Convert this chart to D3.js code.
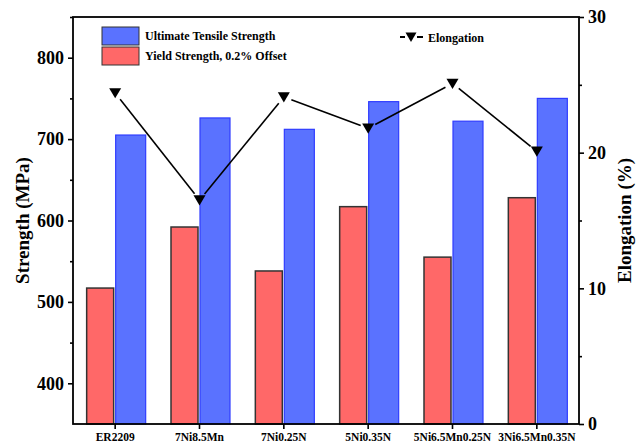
<!DOCTYPE html>
<html>
<head>
<meta charset="utf-8">
<script src="https://cdn.jsdelivr.net/npm/d3@7/dist/d3.min.js"></script>
<style>
  html, body { margin: 0; padding: 0; background: #fff; }
  svg { display: block; }
  text { font-family: "Liberation Serif", "Times New Roman", serif; font-weight: bold; fill: #000; }
</style>
</head>
<body>
<svg id="chart" width="640" height="442"></svg>
<script>
// Alloy designations along the x axis
const categories = ["ER2209", "7Ni8.5Mn", "7Ni0.25N", "5Ni0.35N", "5Ni6.5Mn0.25N", "3Ni6.5Mn0.35N"];
// Strength values (MPa)
const tensileStrength = [705, 726, 712, 746, 722, 750];
const yieldStrength = [517, 592, 538, 617, 555, 628];
// Elongation (%)
const elongation = [24.4, 16.5, 24.1, 21.8, 25.1, 20.1];
// Axis ticks
const strengthTicks = [400, 500, 600, 700, 800];
const strengthMinor = [450, 550, 650, 750, 850];
const elongTicks = [0, 10, 20, 30];
const elongMinor = [5, 15, 25];

const svg = d3.select("#chart");
const plot = { left: 73, right: 579, top: 17, bottom: 424 };

const x = d3.scaleBand().domain(categories).range([plot.left, plot.right]);
const yL = d3.scaleLinear().domain([350, 850]).range([plot.bottom, plot.top]);
const yR = d3.scaleLinear().domain([0, 30]).range([plot.bottom, plot.top]);
const cx = c => x(c) + x.bandwidth() / 2;

const blueFill = "#5a72ff", blueStroke = "#2f3cff";
const redFill = "#ff6868", redStroke = "#333";

// Bars: yield strength left of the category tick, tensile strength right of it
const redW = 27, blueW = 30;
svg.append("g").selectAll("rect")
  .data(categories.map((c, i) => ({ c, v: yieldStrength[i] })))
  .join("rect")
  .attr("x", d => cx(d.c) - 1.5 - redW)
  .attr("width", redW)
  .attr("y", d => yL(d.v))
  .attr("height", d => plot.bottom - yL(d.v))
  .attr("fill", redFill)
  .attr("stroke", redStroke)
  .attr("stroke-width", 1.5);

svg.append("g").selectAll("rect")
  .data(categories.map((c, i) => ({ c, v: tensileStrength[i] })))
  .join("rect")
  .attr("x", d => cx(d.c) + 0.5)
  .attr("width", blueW)
  .attr("y", d => yL(d.v))
  .attr("height", d => plot.bottom - yL(d.v))
  .attr("fill", blueFill)
  .attr("stroke", blueStroke)
  .attr("stroke-width", 1.2);

// Elongation line: segments stop short of each marker
const pts = categories.map((c, i) => [cx(c), yR(elongation[i])]);
const gap = 8;
const segs = d3.pairs(pts).map(([a, b]) => {
  const dx = b[0] - a[0], dy = b[1] - a[1], len = Math.hypot(dx, dy);
  const ux = dx / len, uy = dy / len;
  return [a[0] + ux * gap, a[1] + uy * gap, b[0] - ux * gap, b[1] - uy * gap];
});
svg.append("g").selectAll("line")
  .data(segs)
  .join("line")
  .attr("x1", d => d[0]).attr("y1", d => d[1])
  .attr("x2", d => d[2]).attr("y2", d => d[3])
  .attr("stroke", "#000")
  .attr("stroke-width", 1.6);

const tri = (px, py, s) => `M${px - s},${py - s * 0.8}L${px + s},${py - s * 0.8}L${px},${py + s * 0.9}Z`;
svg.append("g").selectAll("path")
  .data(pts)
  .join("path")
  .attr("d", d => tri(d[0], d[1], 6))
  .attr("fill", "#000");

// Axes
const axisW = 1.8;
const gL = svg.append("g").attr("transform", `translate(${plot.left},0)`)
  .call(d3.axisLeft(yL).tickValues(strengthTicks).tickSize(5).tickPadding(4));
const gLm = svg.append("g").attr("transform", `translate(${plot.left},0)`)
  .call(d3.axisLeft(yL).tickValues(strengthMinor).tickSize(3).tickFormat(""));
const gR = svg.append("g").attr("transform", `translate(${plot.right},0)`)
  .call(d3.axisRight(yR).tickValues(elongTicks).tickSize(5).tickPadding(4));
const gRm = svg.append("g").attr("transform", `translate(${plot.right},0)`)
  .call(d3.axisRight(yR).tickValues(elongMinor).tickSize(3).tickFormat(""));
const gB = svg.append("g").attr("transform", `translate(0,${plot.bottom})`)
  .call(d3.axisBottom(x).tickSize(5).tickPadding(4));

[gL, gLm, gR, gRm, gB].forEach(g => {
  g.select(".domain").remove();
  g.selectAll(".tick line").attr("stroke", "#000").attr("stroke-width", 1.6);
});
[gL, gR].forEach(g => g.selectAll(".tick text")
  .style("font-size", "18px").style("font-family", "Liberation Serif").style("font-weight", "bold"));
gB.selectAll(".tick text")
  .style("font-size", "11.5px").style("font-family", "Liberation Serif").style("font-weight", "bold");

// Frame
svg.append("rect")
  .attr("x", plot.left).attr("y", plot.top)
  .attr("width", plot.right - plot.left).attr("height", plot.bottom - plot.top)
  .attr("fill", "none").attr("stroke", "#000").attr("stroke-width", axisW);

// Axis titles
svg.append("text")
  .attr("transform", `translate(29,${(plot.top + plot.bottom) / 2}) rotate(-90)`)
  .attr("text-anchor", "middle")
  .style("font-size", "19px")
  .text("Strength (MPa)");
svg.append("text")
  .attr("transform", `translate(631,${(plot.top + plot.bottom) / 2}) rotate(-90)`)
  .attr("text-anchor", "middle")
  .style("font-size", "19px")
  .text("Elongation (%)");

// Legend
const legend = svg.append("g");
const legItems = [
  { label: "Ultimate Tensile Strength", fill: blueFill, stroke: "#333", y: 27 },
  { label: "Yield Strength, 0.2% Offset", fill: redFill, stroke: "#333", y: 47 }
];
legItems.forEach(d => {
  legend.append("rect").attr("x", 102).attr("y", d.y).attr("width", 37).attr("height", 18)
    .attr("fill", d.fill).attr("stroke", d.stroke).attr("stroke-width", 1);
  legend.append("text").attr("x", 145).attr("y", d.y + 13)
    .style("font-size", "12px").text(d.label);
});
[[400, 405], [417, 423]].forEach(([a, b]) =>
  legend.append("line").attr("x1", a).attr("x2", b).attr("y1", 37).attr("y2", 37)
    .attr("stroke", "#000").attr("stroke-width", 2));
legend.append("path").attr("d", tri(411, 37, 5.5)).attr("fill", "#000");
legend.append("text").attr("x", 428).attr("y", 41.5)
  .style("font-size", "12px").text("Elongation");
</script>
</body>
</html>
